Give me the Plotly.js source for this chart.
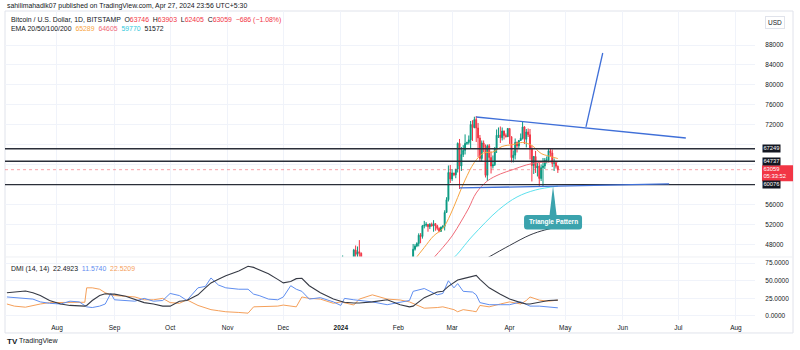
<!DOCTYPE html>
<html><head><meta charset="utf-8">
<script src="https://cdn.plot.ly/plotly-3.0.1.min.js"></script>
<style>html,body{margin:0;padding:0;background:#fff}#chart{width:800px;height:350px}</style>
</head><body><div id="chart"></div><script>
// ---- Daily BTC/USD candles, 2024-01-01 .. 2024-04-27 ----
const candleStart = '2024-01-01';
const openP = [42280,44180,44960,42850,44180,44160,43970,43940,46970,46120,46650,46340,42800,42840,41730,42510,43150,42740,41280,41620,41670,41560,39520,39880,40080,39940,41830,42130,42030,43300,42940,
42580,43080,43190,43000,42580,42660,43090,44340,45300,47150,47770,48290,49950,49700,51830,51940,52130,51660,52120,51780,52270,51850,51320,50730,51570,51730,54500,57050,62500,
61200,62400,62030,63170,68330,63800,66100,66930,68300,68500,69020,72100,71480,73080,71400,69400,65300,68400,67600,61930,67850,65500,63800,64040,67210,69950,69990,69460,70780,69890,69650,
71300,69650,65460,65970,68500,67830,68900,69360,71620,69140,70600,70060,67190,63900,65700,63400,63800,61300,63470,63800,64950,64960,66840,66400,64300,64500,63746];
const highP = [44190,45900,45500,44730,44330,44220,44500,47220,47900,47700,48970,46500,43250,43080,43390,43570,43200,42930,42200,41870,41880,41650,40130,40530,40300,42220,42200,42830,43300,43880,43740,
43280,43480,43380,43110,43490,43400,44370,45600,48200,48160,48550,50330,50370,52000,52820,52570,52160,52370,52480,52960,52370,52030,51530,51670,51960,54940,57550,63900,64000,
63170,62430,63200,68500,69200,67600,67970,70120,68650,69900,72800,72950,73650,73780,72400,70000,68900,68900,68100,68100,68200,66700,65900,67600,71100,71500,71700,71500,70900,70300,71400,
71300,69700,66900,69300,68700,69000,70300,72700,71750,71200,71300,71200,67900,65800,66800,64400,64500,64100,65400,65400,65700,67200,67200,67100,65300,64800,63903];
const lowP = [42190,44180,40750,42630,42500,43400,43590,43200,44300,44350,45600,41500,42440,41720,41700,42060,42200,40660,40280,41450,41500,39430,38550,39500,39270,39830,41420,41640,41830,42700,42300,
41880,42580,42880,42200,42280,42590,42780,44340,45250,46870,47550,47720,48350,49270,51320,51630,50650,51180,51720,50650,50850,50950,50530,50610,51300,50900,54460,56700,60400,
60800,61750,61350,62500,59200,62800,65600,66100,68000,68100,67200,68800,71340,68600,65600,64800,64600,66600,61500,60800,64600,62300,63300,63800,66400,69400,68400,68900,69100,69500,69600,
68200,64500,64500,65100,66500,67400,68800,69100,68200,67500,69600,65100,60700,62200,62400,61700,59800,60800,59600,63200,64300,64500,65800,63600,62800,63300,62405];
const closeP = [44180,44960,42850,44180,44160,43970,43940,46970,46120,46650,46340,42800,42840,41730,42510,43150,42740,41280,41620,41670,41560,39520,39880,40080,39940,41830,42130,42030,43300,42940,42580,
43080,43190,43000,42580,42660,43090,44340,45300,47150,47770,48290,49950,49700,51830,51940,52130,51660,52120,51780,52270,51850,51320,50730,51570,51730,54500,57050,62500,61200,
62400,62030,63170,68330,63800,66100,66930,68300,68500,69020,72100,71480,73080,71400,69400,65300,68400,67600,61930,67850,65500,63800,64040,67210,69950,69990,69460,70780,69890,69650,71300,
69650,65460,65970,68500,67830,68900,69360,71620,69140,70600,70060,67190,63900,65700,63400,63800,61300,63470,63800,64950,64960,66840,66400,64300,64500,63746,63059];
const priceChange = '−686 (−1.08%)';
const countdown = '05:33:52';

// ---- EMA lines ----
const ema20Dates = ['2024-02-09','2024-02-15','2024-02-20','2024-02-25','2024-02-29','2024-03-04','2024-03-08','2024-03-13','2024-03-18','2024-03-23','2024-03-28','2024-04-03','2024-04-08','2024-04-13','2024-04-18','2024-04-22','2024-04-27'];
const ema20 = [44700,47500,49800,51300,54000,57500,61000,64500,66400,66600,67700,68100,68500,67900,66300,65800,65289];
const ema50Dates = ['2024-02-19','2024-02-25','2024-03-01','2024-03-06','2024-03-10','2024-03-14','2024-03-20','2024-03-27','2024-04-03','2024-04-10','2024-04-17','2024-04-27'];
const ema50 = [45000,47500,49800,52800,55400,58400,60800,62200,63100,64000,64500,64605];
const ema100Dates = ['2024-02-25','2024-03-01','2024-03-12','2024-03-26','2024-04-05','2024-04-15','2024-04-27'];
const ema100 = [44500,45200,49800,55000,57600,59000,59770];
const ema200Dates = ['2024-03-19','2024-04-01','2024-04-12','2024-04-20','2024-04-27'];
const ema200 = [45200,47900,50000,51000,51572];

// ---- DMI (14,14) ----
const dmiDates = ['2023-07-05','2023-07-09','2023-07-15','2023-07-19','2023-07-23','2023-07-28',
'2023-08-03','2023-08-08','2023-08-13','2023-08-16','2023-08-17','2023-08-20','2023-08-24','2023-08-27','2023-08-30',
'2023-09-01','2023-09-07','2023-09-12','2023-09-17','2023-09-22','2023-09-27',
'2023-10-01','2023-10-06','2023-10-10','2023-10-16','2023-10-20','2023-10-23','2023-10-27','2023-10-31',
'2023-11-07','2023-11-12','2023-11-15','2023-11-18','2023-11-23','2023-11-28',
'2023-12-01','2023-12-05','2023-12-08','2023-12-11','2023-12-15','2023-12-21','2023-12-28',
'2024-01-01','2024-01-03','2024-01-08','2024-01-11','2024-01-18','2024-01-26',
'2024-02-02','2024-02-07','2024-02-09','2024-02-15','2024-02-22','2024-02-25','2024-02-28',
'2024-03-02','2024-03-04','2024-03-07','2024-03-12','2024-03-14','2024-03-16','2024-03-21','2024-03-27',
'2024-04-01','2024-04-07','2024-04-10','2024-04-12','2024-04-17','2024-04-22','2024-04-27'];
const adx = [33,34,35.5,33,29,22, 17,15,14,14,15,22,29,31.5,31, 31,28,23,19,17,14, 14,21,22,30,40,47,52,57, 64,70.5,69,66,60,52, 47,49,53,53.5,43,33,24, 21,19.5,18.5,18.5,20,23, 16,13,14,26,34,35,42, 48,51,53,57,57.5,52,40,31, 24,19,17,17,20,22,22.4923];
const plusDI = [27,26,25,24,20,18, 17,21,20,14,13,12,14,17,32, 23,22,21,25,21,22, 32,29,22,40,42,54,44,40, 38,38,31,29,24,23, 27,43,38,35,24,26,20, 15,25,23,22,20,16, 20,22,35,39,30,32,50, 40,46,35,34,30,19,16,16, 16,20,16,14,14,13,11.574];
const minusDI = [17,14,12.5,15,17,19, 19,19,19,19.5,40,40,38,33,30, 29,28,27,23,23,25, 19,18,23,15,11,9,7.5,6, 5,4,13,13,13,14, 15.5,14,13,27,25,24,18, 20,19,15.6,24,30,24, 22.7,20,18,11,12,13,11, 9,6,9,7,6,15,13,17, 20,17,22,27,22.5,21,22.5209];

// ---- levels, drawings, ticks ----
const levels = [67249, 64737, 60076];
const lastPrice = 63059;
const upperTrend = {x:['2024-03-14','2024-07-05'], y:[73600,69400]};
const lowerTrend = {x:['2024-03-05','2024-06-26'], y:[59400,60200]};
const projection = {x:['2024-05-12 04:00','2024-05-21 05:00'], y:[71600,86400]};
const calloutTip = {x:'2024-04-24 10:00', y:59800};
const calloutTextY = 52600;
const priceTicks = [48000,52000,56000,60000,64000,68000,72000,76000,80000,84000,88000];
// labels hidden behind the level tags in the original
const priceTickLabels = ['48000','52000','56000','','','','72000','76000','80000','84000','88000'];
const dmiTicks = [0,25,50,75];
const monthTicks = ['2023-08-01','2023-09-01','2023-10-01','2023-11-01','2023-12-01','2024-01-01','2024-02-01','2024-03-01','2024-04-01','2024-05-01','2024-06-01','2024-07-01','2024-08-01'];
const monthLabels = ['Aug','Sep','Oct','Nov','Dec','<b>2024</b>','Feb','Mar','Apr','May','Jun','Jul','Aug'];

// build candle dates (consecutive days)
const dates = [];
{ const d0 = new Date(candleStart + 'T00:00:00Z');
  for (let i = 0; i < closeP.length; i++) { const d = new Date(d0.getTime() + i*86400000); dates.push(d.toISOString().slice(0,10)); } }

const FONT = 'Liberation Sans, Arial, sans-serif';
const last = a => a[a.length-1];
const traces = [
  {type:'scatter', mode:'lines', x:ema200Dates, y:ema200, line:{color:'#363a45', width:1, shape:'spline'}, hoverinfo:'skip', xaxis:'x', yaxis:'y'},
  {type:'scatter', mode:'lines', x:ema100Dates, y:ema100, line:{color:'#5ce1ee', width:1, shape:'spline'}, hoverinfo:'skip', xaxis:'x', yaxis:'y'},
  {type:'scatter', mode:'lines', x:ema50Dates, y:ema50, line:{color:'#f06b78', width:1, shape:'spline'}, hoverinfo:'skip', xaxis:'x', yaxis:'y'},
  {type:'scatter', mode:'lines', x:ema20Dates, y:ema20, line:{color:'#f7a541', width:1, shape:'spline'}, hoverinfo:'skip', xaxis:'x', yaxis:'y'},
  {type:'candlestick', x:dates, open:openP, high:highP, low:lowP, close:closeP,
   increasing:{line:{color:'#089981', width:1}, fillcolor:'#089981'},
   decreasing:{line:{color:'#f23645', width:1}, fillcolor:'#f23645'},
   whiskerwidth:0, hoverinfo:'skip', xaxis:'x', yaxis:'y'},
  {type:'scatter', mode:'lines', x:dmiDates, y:minusDI, line:{color:'#f5a05a', width:1}, hoverinfo:'skip', xaxis:'x', yaxis:'y2'},
  {type:'scatter', mode:'lines', x:dmiDates, y:plusDI, line:{color:'#5f8ef0', width:1}, hoverinfo:'skip', xaxis:'x', yaxis:'y2'},
  {type:'scatter', mode:'lines', x:dmiDates, y:adx, line:{color:'#363a45', width:1.1}, hoverinfo:'skip', xaxis:'x', yaxis:'y2'}
];

const shapes = [];
shapes.push({type:'rect', xref:'paper', yref:'paper', x0:0, x1:1.0507, y0:-0.042, y1:1.0, line:{color:'#e0e3eb', width:1}, layer:'below'});
shapes.push({type:'line', xref:'paper', yref:'paper', x0:0, x1:1.0507, y0:0.204, y1:0.204, line:{color:'#eef0f5', width:1}});
shapes.push({type:'line', xref:'paper', x0:0, x1:1, yref:'y', y0:lastPrice, y1:lastPrice, line:{color:'rgba(242,54,69,0.45)', width:1, dash:'dot'}});
levels.forEach(v => shapes.push({type:'line', xref:'paper', x0:0, x1:1, yref:'y', y0:v, y1:v, line:{color:'#2a2e39', width:1.4}}));
[upperTrend, lowerTrend, projection].forEach(t => shapes.push({type:'line', xref:'x', yref:'y', x0:t.x[0], x1:t.x[1], y0:t.y[0], y1:t.y[1], line:{color:'#3f6fd8', width:1.3}}));
shapes.push({type:'path', xref:'x', yref:'y', xsizemode:'pixel', ysizemode:'pixel', xanchor:calloutTip.x, yanchor:calloutTip.y,
  path:'M0,0 L-3.5,-29 L3.5,-29 Z', fillcolor:'#3ba3ad', line:{width:0}});
shapes.push({type:'path', xref:'x', yref:'y', xsizemode:'pixel', ysizemode:'pixel', xanchor:calloutTip.x, yanchor:calloutTip.y,
  path:'M-26,-29 L26,-29 Q29,-29 29,-32 L29,-40.5 Q29,-43.5 26,-43.5 L-26,-43.5 Q-29,-43.5 -29,-40.5 L-29,-32 Q-29,-29 -26,-29 Z', fillcolor:'#3ba3ad', line:{width:0}});
// red box behind last price + countdown
shapes.push({type:'rect', xref:'paper', x0:1.0093, x1:1.0507, yref:'y', ysizemode:'pixel', yanchor:lastPrice, y0:4.5, y1:-11.5, fillcolor:'#f23645', line:{width:0}});

const px = v => (v - 5) / 750, py = v => (320 - v) / 309;
const ann = [];
const txt = (x, y, text, opt) => ann.push(Object.assign({xref:'paper', yref:'paper', x:px(x), y:py(y), xanchor:'left', yanchor:'middle', text, showarrow:false, font:{size:6.9, color:'#131722', family:FONT}}, opt||{}));
const R = s => '<span style="color:#f23645">' + s + '</span>';
const C = (c, s) => '<span style="color:' + c + '">' + s + '</span>';
txt(5, 6, 'sahilimahadik07 published on TradingView.com, Apr 27, 2024 23:56 UTC+5:30');
txt(9, 20, 'Bitcoin / U.S. Dollar, 1D, BITSTAMP  O' + R(last(openP)) + '  H' + R(last(highP)) + '  L' + R(last(lowP)) + '  C' + R(last(closeP)) + '  ' + R(priceChange));
txt(9, 29, 'EMA 20/50/100/200  ' + C('#f7a541', last(ema20)) + '  ' + C('#f06b78', last(ema50)) + '  ' + C('#2fc9dc', last(ema100)) + '  ' + last(ema200));
txt(9, 269, 'DMI (14, 14)  ' + last(adx).toFixed(4) + '  ' + C('#5f8ef0', last(plusDI).toFixed(4)) + '  ' + C('#f5a05a', last(minusDI).toFixed(4)));
txt(765, 22, 'USD', {bordercolor:'#e0e3eb', borderwidth:1, borderpad:2, bgcolor:'#fff', font:{size:6.5, color:'#131722', family:FONT}});
txt(5, 341, '<b>TV</b>', {font:{size:8, color:'#131722', family:FONT}});
txt(17, 341, 'TradingView', {font:{size:7, color:'#131722', family:FONT}});
// axis tags
const tag = (v, text, bg, shift) => ann.push({xref:'paper', x:1, xanchor:'left', xshift:7, yref:'y', y:v, yanchor:'middle', yshift:shift||0, text:text, showarrow:false, bgcolor:bg, borderpad:0.4, font:{size:5.8, color:'#fff', family:FONT}});
levels.forEach(v => tag(v, String(v), '#131722'));
tag(lastPrice, String(lastPrice), 'rgba(0,0,0,0)', 0.3);
tag(lastPrice, countdown, 'rgba(0,0,0,0)', -6.6);
// callout text
ann.push({xref:'x', yref:'y', x:calloutTip.x, y:calloutTextY, text:'<b>Triangle Pattern</b>', showarrow:false, font:{size:6.5, color:'#fff', family:FONT}});

const axisCommon = {showgrid:true, gridcolor:'#f0f3fa', gridwidth:1, zeroline:false, showline:false, fixedrange:true};
const layout = {
  width:800, height:350, margin:{l:5, r:45, t:11, b:30},
  paper_bgcolor:'#ffffff', plot_bgcolor:'#ffffff', showlegend:false,
  font:{family:FONT, size:6.5, color:'#131722'},
  xaxis:Object.assign({}, axisCommon, {type:'date', anchor:'y2', range:['2023-07-03 23:17','2024-08-11 07:00'],
    tickmode:'array', tickvals:monthTicks, ticktext:monthLabels, ticks:'outside', ticklen:1, tickcolor:'rgba(0,0,0,0)',
    rangeslider:{visible:false}, tickfont:{size:6.5, color:'#131722'}}),
  yaxis:Object.assign({}, axisCommon, {domain:[0.204,1], range:[45600,94800], side:'right', anchor:'x',
    tickmode:'array', tickvals:priceTicks, ticktext:priceTickLabels, ticks:'outside', ticklen:8, tickcolor:'rgba(0,0,0,0)', tickfont:{size:6.5, color:'#131722'}}),
  yaxis2:Object.assign({}, axisCommon, {domain:[0,0.204], range:[-5.7,83.8], side:'right', anchor:'x',
    tickmode:'array', tickvals:dmiTicks, ticktext:dmiTicks.map(v => v.toFixed(4)), ticks:'outside', ticklen:8, tickcolor:'rgba(0,0,0,0)', tickfont:{size:6.5, color:'#131722'}}),
  shapes:shapes, annotations:ann
};
Plotly.newPlot('chart', traces, layout, {displayModeBar:false, staticPlot:true});
</script></body></html>
